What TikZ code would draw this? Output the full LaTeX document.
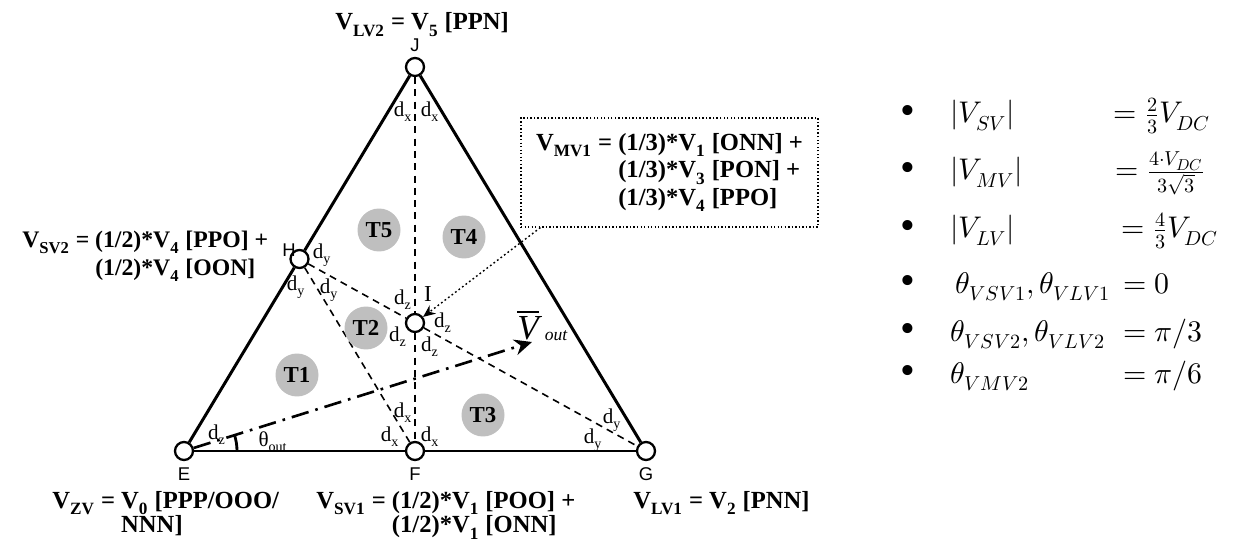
\documentclass[tikz,border=0pt]{standalone}
\usepackage{fontspec}
\usepackage{unicode-math}
\setmainfont{Liberation Serif}
\newfontfamily\lblfont{Liberation Sans}
\DeclareMathSizes{17}{17}{11.5}{9}
\usetikzlibrary{arrows.meta,positioning,calc}
\tikzset{
  vtxnode/.style={circle,draw=black,fill=white,line width=1.3pt,minimum size=0.36cm,inner sep=0pt},
  trinode/.style={circle,fill=black!25,minimum size=0.86cm,inner sep=0pt,font=\fontsize{13}{15}\selectfont\bfseries},
  ptnode/.style={inner sep=0pt,font=\lblfont\fontsize{10.5}{12}\selectfont},
  vlabel/.style={inner sep=0pt,font=\fontsize{14}{14.2}\selectfont\bfseries},
  boxlabel/.style={inner sep=0pt,font=\fontsize{14}{15.5}\selectfont\bfseries},
  dlabel/.style={inner sep=0pt,font=\fontsize{12}{12}\selectfont},
  mathrow/.style={inner sep=0pt,anchor=base west,font=\fontsize{17}{21}\selectfont},
  bulletmark/.style={inner sep=0pt,font=\fontsize{24}{24}\selectfont},
  sideedge/.style={line width=1.7pt},
  auxline/.style={line width=0.9pt,dash pattern=on 4pt off 3pt},
  vecarr/.style={-{Stealth[length=10pt,width=9pt]},line width=1.5pt,dash pattern=on 10pt off 4pt on 1.5pt off 4pt},
  dotarr/.style={-{Stealth[length=7pt,width=6pt]},line width=0.8pt,dash pattern=on 1pt off 1.5pt}
}
\newcommand{\dlbl}[1]{d\textsubscript{#1}}
\newcommand{\Vs}[1]{V\textsubscript{#1}}

\begin{document}
\begin{tikzpicture}[x=0.02cm,y=0.02cm]
  \useasboundingbox (0,0) rectangle (1233,548);

  %% Switching states
  \node[vtxnode] (E) at (184,97) {};
  \node[vtxnode] (F) at (415,97) {};
  \node[vtxnode] (G) at (646,97) {};
  \node[vtxnode] (J) at (415,481) {};
  \node[vtxnode] (H) at ($(E)!0.5!(J)$) {};
  \node[vtxnode] (I) at (415,225) {};

  \draw[sideedge] (E)--(H); \draw[sideedge] (H)--(J); \draw[sideedge] (J)--(G);
  \draw[sideedge] (E)--(F); \draw[sideedge] (F)--(G);
  \draw[auxline] (J)--(I); \draw[auxline] (I)--(F);
  \draw[auxline] (H)--(I); \draw[auxline] (I)--(G);
  \draw[auxline] (H)--(F);

  %% Sub-triangles
  \node[trinode] (t1) at (297,173) {T1};
  \node[trinode] (t2) at (366,220) {T2};
  \node[trinode] (t3) at (483,133) {T3};
  \node[trinode] (t4) at (464,311) {T4};
  \node[trinode] (t5) at (379,318) {T5};

  %% Point letters
  \node[ptnode,above=0.1cm of J] (jl) {J};
  \node[ptnode,below=0.12cm of E] (el) {E};
  \node[ptnode,below=0.12cm of F] (fl) {F};
  \node[ptnode,below=0.12cm of G] (gl) {G};
  \node[ptnode] (hl) at (289,298) {H};
  \node[inner sep=0pt,font=\fontsize{13}{13}\selectfont] (il) at (428,254) {I};

  %% Distance marks
  \foreach \px/\py/\s [count=\k] in {403/436/x, 430/436/x, 322/293/y, 296/261/y, 329/258/y,
      403/248/z, 398/211/z, 443/225/z, 430/201/z, 403/135/x, 390/111/x, 430/111/x,
      612/128/y, 593/108/y, 217/113/z}
    \node[dlabel] (d\k) at (\px,\py) {\dlbl{\s}};

  %% Output vector
  \coordinate (vtip) at (532,206);
  \draw[vecarr] (E) -- (vtip);
  \node[inner sep=0pt,font=\fontsize{20}{20}\selectfont] (vbar) at (528,223) {$\overline{\textit{V}}$};
  \node[inner sep=0pt,font=\fontsize{10}{10}\selectfont\itshape] (vout) at (556,212) {out};
  \draw[line width=1.6pt] (E) ++(1.06cm,0) arc[start angle=0,end angle=17,radius=1.06cm];
  \node[dlabel] (thl) at (273,106) {θ\textsubscript{out}};

  %% Vector definitions
  \node[vlabel,anchor=base west] (lv2) at (335,518) {\Vs{LV2} = \Vs{5} [PPN]};
  \node[boxlabel,font=\fontsize{13.5}{15.5}\selectfont\bfseries,anchor=base west] (sv2) at (22,300)
    {\begin{tabular}[t]{@{}r@{\ }l@{}}\Vs{SV2} = & (1/2)*\Vs{4} [PPO] +\\ & (1/2)*\Vs{4} [OON]\end{tabular}};
  \node[vlabel,anchor=base west] (zv) at (52,40)
    {\begin{tabular}[t]{@{}r@{\ }l@{}}\Vs{ZV} = & \Vs{0} [PPP/OOO/\\ & NNN]\end{tabular}};
  \node[vlabel,anchor=base west] (sv1) at (316,40)
    {\begin{tabular}[t]{@{}r@{\ }l@{}}\Vs{SV1} = & (1/2)*\Vs{1} [POO] +\\ & (1/2)*\Vs{1} [ONN]\end{tabular}};
  \node[vlabel,anchor=base west] (lv1) at (633,40) {\Vs{LV1} = \Vs{2} [PNN]};
  \node[boxlabel,draw,line width=0.7pt,dash pattern=on 0.8pt off 1.2pt,
        minimum width=5.94cm,minimum height=2.18cm] (mvbox) at (669.5,375.5)
    {\begin{tabular}{@{}r@{\ }l@{}}\Vs{MV1} = & (1/3)*\Vs{1} [ONN] +\\ & (1/3)*\Vs{3} [PON] +\\ & (1/3)*\Vs{4} [PPO]\end{tabular}};
  \draw[dotarr] ([xshift=0.4cm]mvbox.south west) -- (I);

  %% Magnitudes and angles
  \foreach \py in {433,376,318,263,215,173}
    \node[bulletmark] at (908,\py) {\textbullet};
  \node[mathrow] (m1) at (950,425) {$|V_{SV}|$};
  \node[mathrow] (r1) at (1113,425) {$=\frac{2}{3}V_{DC}$};
  \node[mathrow] (m2) at (950,368) {$|V_{MV}|$};
  \node[mathrow] (r2) at (1115,368) {$=\frac{4\cdot V_{DC}}{3\sqrt{3}}$};
  \node[mathrow] (m3) at (950,310) {$|V_{LV}|$};
  \node[mathrow] (r3) at (1121,310) {$=\frac{4}{3}V_{DC}$};
  \node[mathrow] (m4) at (955,255) {$\theta_{VSV1},\theta_{VLV1}$};
  \node[mathrow] (r4) at (1123,255) {$=0$};
  \node[mathrow] (m5) at (950,207) {$\theta_{VSV2},\theta_{VLV2}$};
  \node[mathrow] (r5) at (1123,207) {$=\pi/3$};
  \node[mathrow] (m6) at (950,165) {$\theta_{VMV2}$};
  \node[mathrow] (r6) at (1123,165) {$=\pi/6$};
\end{tikzpicture}
\end{document}
